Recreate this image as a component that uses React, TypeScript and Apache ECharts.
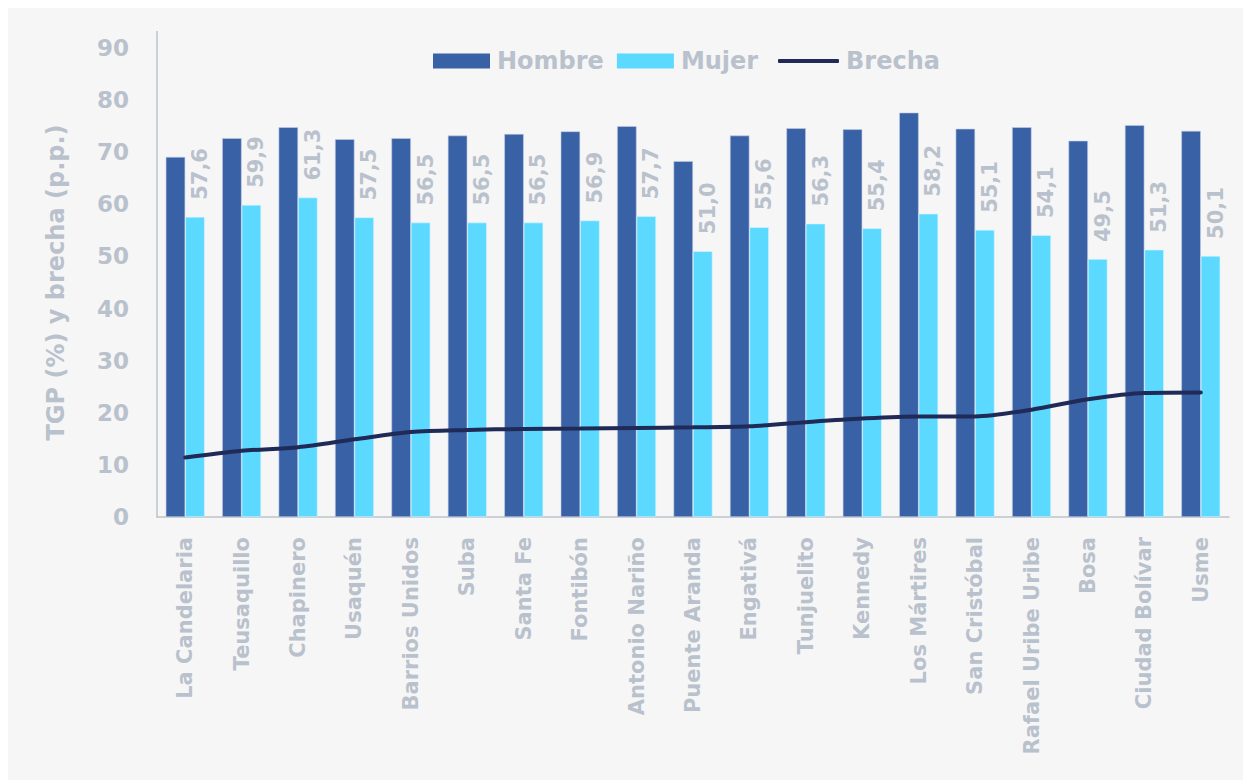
import React, { useEffect, useRef } from "react";
import * as echarts from "echarts";

const categories = [
  "La Candelaria", "Teusaquillo", "Chapinero", "Usaquén", "Barrios Unidos", "Suba",
  "Santa Fe", "Fontibón", "Antonio Nariño", "Puente Aranda", "Engativá", "Tunjuelito",
  "Kennedy", "Los Mártires", "San Cristóbal", "Rafael Uribe Uribe", "Bosa",
  "Ciudad Bolívar", "Usme",
];
const hombre = [69.1, 72.7, 74.8, 72.5, 72.7, 73.2, 73.5, 74.0, 75.0, 68.3, 73.2, 74.6, 74.4, 77.6, 74.5, 74.8, 72.2, 75.2, 74.1];
const mujer = [57.6, 59.9, 61.3, 57.5, 56.5, 56.5, 56.5, 56.9, 57.7, 51.0, 55.6, 56.3, 55.4, 58.2, 55.1, 54.1, 49.5, 51.3, 50.1];
const brecha = [11.4, 12.7, 13.4, 14.9, 16.3, 16.7, 16.9, 17.0, 17.1, 17.2, 17.4, 18.2, 18.9, 19.3, 19.3, 20.6, 22.6, 23.8, 23.9];
const yTicks = [0, 10, 20, 30, 40, 50, 60, 70, 80, 90];

const FONT = "DejaVu Sans";
const GRAY = "#b9c1cc";

export default function App() {
  const ref = useRef<HTMLDivElement>(null);
  useEffect(() => {
    document.documentElement.style.overflow = "hidden";
    const chart = echarts.init(ref.current!, null, { renderer: "svg" });
    const legendText = { color: GRAY, fontSize: 24, fontWeight: "bold", fontFamily: FONT, padding: [0, 0, 0, 2] };
    chart.setOption({
      animation: false,
      backgroundColor: "#f6f6f6",
      textStyle: { fontFamily: FONT },
      legend: [
        {
          left: 420,
          top: 36,
          itemWidth: 57,
          itemHeight: 15,
          itemGap: 13,
          itemStyle: { borderWidth: 0 },
          textStyle: legendText,
          data: [
            { name: "Hombre", icon: "rect" },
            { name: "Mujer", icon: "rect" },
          ],
        },
        {
          left: 765,
          top: 36,
          itemWidth: 61,
          itemHeight: 4,
          textStyle: legendText,
          data: [{ name: "Brecha", icon: "roundRect" }],
        },
      ],
      grid: { left: 149, right: 22, top: 40, bottom: 263, containLabel: false },
      xAxis: {
        type: "category",
        data: categories,
        axisLine: { show: true, lineStyle: { color: "#bcc3cc", width: 1.5 } },
        axisTick: { show: false },
        axisLabel: {
          rotate: 90,
          margin: 20,
          interval: 0,
          color: GRAY,
          fontSize: 21,
          fontWeight: "bold",
          fontFamily: FONT,
        },
      },
      yAxis: {
        type: "value",
        min: yTicks[0],
        max: yTicks[yTicks.length - 1],
        interval: 10,
        name: "TGP (%) y brecha (p.p.)",
        nameLocation: "middle",
        nameGap: 89,
        nameTextStyle: { color: GRAY, fontSize: 24, fontWeight: "bold", fontFamily: FONT },
        splitLine: { show: false },
        axisTick: { show: false },
        axisLine: { show: true, lineStyle: { color: "#bcc3cc", width: 1.5 } },
        axisLabel: {
          margin: 28,
          color: GRAY,
          fontSize: 23,
          fontWeight: "bold",
          fontFamily: FONT,
        },
      },
      graphic: [
        {
          type: "line",
          shape: { x1: 149, y1: 23, x2: 149, y2: 40 },
          style: { stroke: "#bcc3cc", lineWidth: 1.5 },
        },
      ],
      series: [
        {
          name: "Hombre",
          type: "bar",
          data: hombre,
          barGap: "0%",
          barCategoryGap: "31%",
          itemStyle: { color: "#3961a6", borderColor: "#c3cde3", borderWidth: 0.6 },
        },
        {
          name: "Mujer",
          type: "bar",
          data: mujer,
          itemStyle: { color: "#5cd9fe", borderColor: "#d6f4ff", borderWidth: 0.6 },
          label: {
            show: true,
            position: "top",
            rotate: 90,
            align: "left",
            verticalAlign: "middle",
            distance: 17,
            offset: [0, 5],
            color: GRAY,
            fontSize: 21,
            fontWeight: "bold",
            fontFamily: FONT,
            formatter: (p: any) => p.value.toFixed(1).replace(".", ","),
          },
        },
        {
          name: "Brecha",
          type: "line",
          data: brecha,
          smooth: 0.3,
          symbol: "none",
          lineStyle: { color: "#1f2a57", width: 4, cap: "round" },
          itemStyle: { color: "#1f2a57" },
          z: 5,
        },
      ],
    });
    return () => chart.dispose();
  }, []);
  return <div ref={ref} style={{ width: 1243, height: 772 }} />;
}
